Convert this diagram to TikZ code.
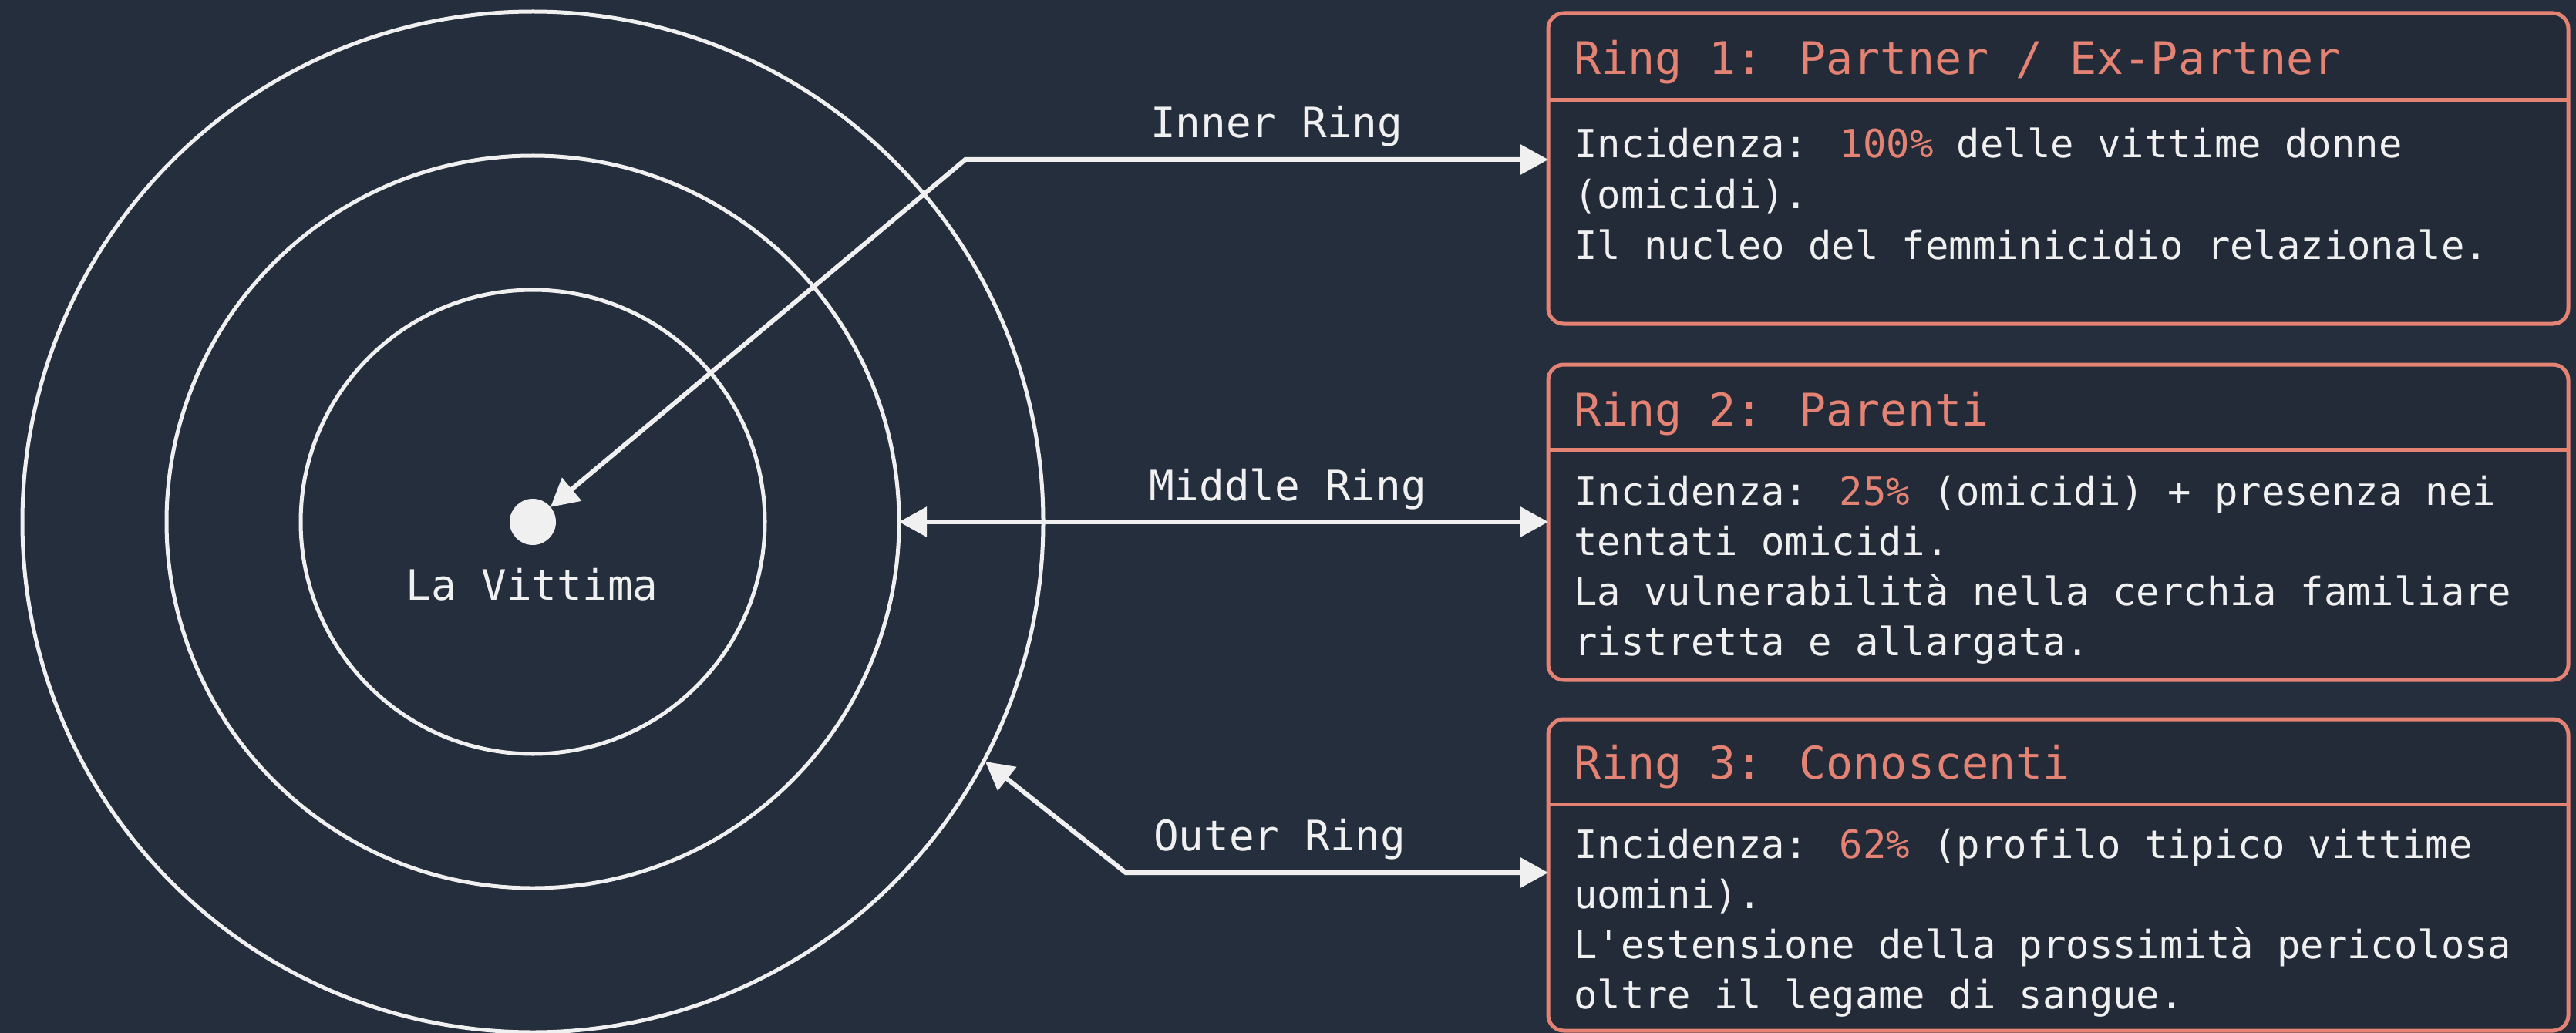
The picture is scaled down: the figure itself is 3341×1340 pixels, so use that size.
\documentclass[tikz,border=0pt]{standalone}
\usepackage{fontspec}
\usetikzlibrary{arrows.meta}
\newfontfamily\monofnt{DejaVu Sans Mono}
\newcommand\bodyfnt{\monofnt\fontsize{50.5pt}{60pt}\selectfont}
\newcommand\titlefnt{\monofnt\fontsize{58.3pt}{70pt}\selectfont}
\newcommand\labelfnt{\monofnt\fontsize{54.3pt}{65pt}\selectfont}
\definecolor{bg}{RGB}{37,46,61}
\definecolor{boxbg}{RGB}{35,43,57}
\definecolor{salmon}{RGB}{228,130,115}
\definecolor{ink}{RGB}{240,240,240}
\begin{document}
\begin{tikzpicture}[x=1pt,y=-1pt,
  ringline/.style={draw=ink, line width=5pt},
  conn/.style={draw=ink, line width=6pt, line join=miter,
    {Triangle[length=36pt,width=38pt]}-{Triangle[length=36pt,width=38pt]}},
  infobox/.style={draw=salmon, fill=boxbg, line width=5pt, rounded corners=20pt,
    minimum width=1323pt, outer sep=0pt, inner sep=0pt, anchor=north west},
  divline/.style={draw=salmon, line width=5pt},
  titletxt/.style={anchor=base west, inner sep=0pt, text=salmon, font=\titlefnt},
  bodytxt/.style={anchor=base west, inner sep=0pt, text=ink, font=\bodyfnt},
  lbltxt/.style={anchor=base west, inner sep=0pt, text=ink, font=\labelfnt},
  hl/.style={}]
\fill[bg] (0,0) rectangle (3341,1340);
\useasboundingbox (0,0) rectangle (3341,1340);

% rings
\coordinate (c) at (691,677);
\draw[ringline] (c) circle[radius=301];
\draw[ringline] (c) circle[radius=475];
\draw[ringline] (c) circle[radius=662];
\node[circle, fill=ink, minimum size=60pt, inner sep=0pt, outer sep=0pt] (dot) at (c) {};
\node[anchor=base, inner sep=0pt, text=ink, font=\labelfnt] (vit) at (690,778) {La Vittima};

% boxes
\node[infobox, minimum height=403pt] (b1) at (2008,17) {};
\node[infobox, minimum height=409pt] (b2) at (2008,473) {};
\node[infobox, minimum height=404pt] (b3) at (2008,933) {};
\draw[divline] ([yshift=-113pt]b1.north west) -- ([yshift=-113pt]b1.north east);
\draw[divline] ([yshift=-110pt]b2.north west) -- ([yshift=-110pt]b2.north east);
\draw[divline] ([yshift=-110pt]b3.north west) -- ([yshift=-110pt]b3.north east);

% box 1 text
\node[titletxt] (t1) at (2041,97) {Ring 1: Partner / Ex-Partner};
\node[bodytxt] (t1a) at (2041,205) {Incidenza: \textcolor{salmon}{100\%} delle vittime donne};
\node[bodytxt] (t1b) at (2041,271) {(omicidi).};
\node[bodytxt] (t1c) at (2041,337) {Il nucleo del femminicidio relazionale.};

% box 2 text
\node[titletxt] (t2) at (2041,552) {Ring 2: Parenti};
\node[bodytxt] (t2a) at (2041,655) {Incidenza: \textcolor{salmon}{25\%} (omicidi) + presenza nei};
\node[bodytxt] (t2b) at (2041,720) {tentati omicidi.};
\node[bodytxt] (t2c) at (2041,785) {La vulnerabilità nella cerchia familiare};
\node[bodytxt] (t2d) at (2041,850) {ristretta e allargata.};

% box 3 text
\node[titletxt] (t3) at (2041,1010) {Ring 3: Conoscenti};
\node[bodytxt] (t3a) at (2041,1113) {Incidenza: \textcolor{salmon}{62\%} (profilo tipico vittime};
\node[bodytxt] (t3b) at (2041,1178) {uomini).};
\node[bodytxt] (t3c) at (2041,1243) {L'estensione della prossimità pericolosa};
\node[bodytxt] (t3d) at (2041,1308) {oltre il legame di sangue.};

% connectors
\coordinate (p1) at (1252,207);
\coordinate (m1) at (1166,677);
\coordinate (o1) at (1278,988);
\coordinate (o2) at (1460,1132);
\draw[conn] (dot) -- (p1) -- (p1 -| b1.west);
\draw[conn] (m1) -- (m1 -| b2.west);
\draw[conn] (o1) -- (o2) -- (o2 -| b3.west);

% labels
\node[lbltxt] (l1) at (1492,179) {Inner Ring};
\node[lbltxt] (l2) at (1490,649) {Middle Ring};
\node[lbltxt] (l3) at (1496,1103) {Outer Ring};
\end{tikzpicture}
\end{document}
